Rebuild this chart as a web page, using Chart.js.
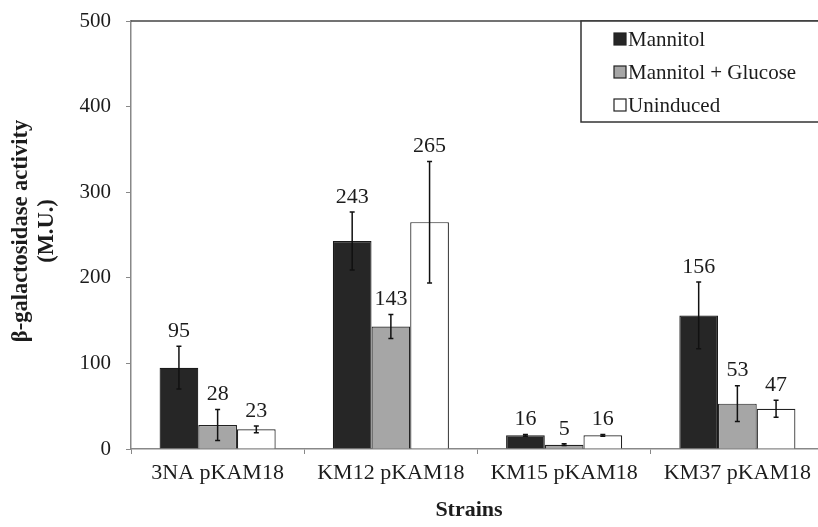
<!DOCTYPE html>
<html>
<head>
<meta charset="utf-8">
<script src="https://cdn.jsdelivr.net/npm/chart.js@4/dist/chart.umd.min.js"></script>
<style>
  html, body { margin: 0; padding: 0; background: #fff; width: 818px; height: 527px; overflow: hidden; }
  #wrap { position: relative; width: 830px; height: 527px; }
</style>
</head>
<body>
<div id="wrap"><canvas id="c" width="830" height="527"></canvas></div>
<script>
// Strains tested and beta-galactosidase activity (Miller units)
const strains = ['3NA pKAM18', 'KM12 pKAM18', 'KM15 pKAM18', 'KM37 pKAM18'];

const mannitol      = [95, 243, 16, 156];
const mannitolErr   = [25, 34, 1, 39];

const mannGlucose    = [28, 143, 5, 53];
const mannGlucoseErr = [18, 14, 1, 21];

const uninduced    = [23, 265, 16, 47];
const uninducedErr = [4, 71, 1, 10];

const yTicks = [0, 100, 200, 300, 400, 500];

const SERIF = '"Liberation Serif", "Times New Roman", serif';
const INK = '#1c1c1c';

// Error bars plus value labels above each bar
const errorBarPlugin = {
  id: 'errorBars',
  afterDatasetsDraw(chart) {
    const ctx = chart.ctx;
    const y = chart.scales.y;
    ctx.save();
    chart.data.datasets.forEach((ds, di) => {
      const meta = chart.getDatasetMeta(di);
      meta.data.forEach((bar, i) => {
        const v = ds.data[i];
        const e = ds.errors[i];
        const x = bar.x;
        const yTop = y.getPixelForValue(v + e);
        const yBot = y.getPixelForValue(v - e);
        ctx.strokeStyle = '#111';
        ctx.lineWidth = 1.5;
        ctx.beginPath();
        ctx.moveTo(x, yTop); ctx.lineTo(x, yBot);
        ctx.moveTo(x - 2.5, yTop); ctx.lineTo(x + 2.5, yTop);
        ctx.moveTo(x - 2.5, yBot); ctx.lineTo(x + 2.5, yBot);
        ctx.stroke();
        ctx.fillStyle = INK;
        ctx.font = '22px ' + SERIF;
        ctx.textAlign = 'center';
        ctx.textBaseline = 'middle';
        ctx.fillText(String(v), x, yTop - 15);
      });
    });
    ctx.restore();
  }
};

// Plot frame top edge, axis titles and the boxed legend
const decorPlugin = {
  id: 'decor',
  afterDraw(chart) {
    const ctx = chart.ctx;
    const a = chart.chartArea;
    ctx.save();
    ctx.strokeStyle = '#444';
    ctx.lineWidth = 1.5;
    ctx.beginPath();
    ctx.moveTo(a.left, a.top); ctx.lineTo(a.right + 10, a.top);
    ctx.stroke();

    // y axis title (two lines, rotated)
    ctx.fillStyle = INK;
    ctx.font = 'bold 22.5px ' + SERIF;
    ctx.textAlign = 'center';
    ctx.textBaseline = 'middle';
    ctx.save();
    ctx.translate(21, 231);
    ctx.rotate(-Math.PI / 2);
    ctx.fillText('β-galactosidase activity', 0, 0);
    ctx.restore();
    ctx.save();
    ctx.translate(47, 231);
    ctx.rotate(-Math.PI / 2);
    ctx.fillText('(M.U.)', 0, 0);
    ctx.restore();

    // x axis title
    ctx.font = 'bold 22px ' + SERIF;
    ctx.fillText('Strains', 469, 510);

    // legend box
    const lx = 581, ly = a.top, lw = 260, lh = 101;
    ctx.fillStyle = '#fff';
    ctx.fillRect(lx, ly, lw, lh);
    ctx.strokeStyle = '#333';
    ctx.lineWidth = 1.5;
    ctx.strokeRect(lx, ly, lw, lh);
    const rows = [a.top + 18, a.top + 51, a.top + 84];
    chart.data.datasets.forEach((ds, di) => {
      const cy = rows[di];
      ctx.fillStyle = ds.backgroundColor;
      ctx.fillRect(614, cy - 6, 12, 12);
      ctx.strokeStyle = '#222';
      ctx.lineWidth = 1.2;
      ctx.strokeRect(614, cy - 6, 12, 12);
      ctx.fillStyle = INK;
      ctx.font = '21px ' + SERIF;
      ctx.textAlign = 'left';
      ctx.textBaseline = 'middle';
      ctx.fillText(ds.label, 628, cy + 1);
    });
    ctx.restore();
  }
};

new Chart(document.getElementById('c'), {
  type: 'bar',
  data: {
    labels: strains,
    datasets: [
      { label: 'Mannitol', data: mannitol, errors: mannitolErr,
        backgroundColor: '#262626', borderColor: '#1a1a1a', borderWidth: 1.2 },
      { label: 'Mannitol + Glucose', data: mannGlucose, errors: mannGlucoseErr,
        backgroundColor: '#a6a6a6', borderColor: '#222', borderWidth: 1.2 },
      { label: 'Uninduced', data: uninduced, errors: uninducedErr,
        backgroundColor: '#ffffff', borderColor: '#222', borderWidth: 1.2 }
    ]
  },
  options: {
    responsive: false,
    animation: false,
    devicePixelRatio: 1,
    layout: { padding: { left: 0, top: 21, right: 6, bottom: 0 } },
    plugins: { legend: { display: false }, tooltip: { enabled: false } },
    datasets: { bar: { categoryPercentage: 0.67, barPercentage: 1.0 } },
    scales: {
      x: {
        offset: true,
        grid: { display: true, drawOnChartArea: false, offset: true, tickLength: 5, color: '#888' },
        border: { display: true, color: '#888', width: 1.5 },
        ticks: { color: INK, font: { family: SERIF, size: 22 }, padding: 6, maxRotation: 0 },
        afterFit(s) { s.height = 78; s.paddingLeft = 0; s.paddingRight = 0; }
      },
      y: {
        min: 0, max: 500,
        afterBuildTicks(s) { s.ticks = yTicks.map(v => ({ value: v })); },
        grid: { display: true, drawOnChartArea: false, tickLength: 5, color: '#888' },
        border: { display: true, color: '#888', width: 1.5 },
        ticks: { color: INK, font: { family: SERIF, size: 21 }, padding: 15 },
        afterFit(s) { s.width = 131; s.paddingTop = 0; s.paddingBottom = 0; }
      }
    }
  },
  plugins: [errorBarPlugin, decorPlugin]
});
</script>
</body>
</html>
